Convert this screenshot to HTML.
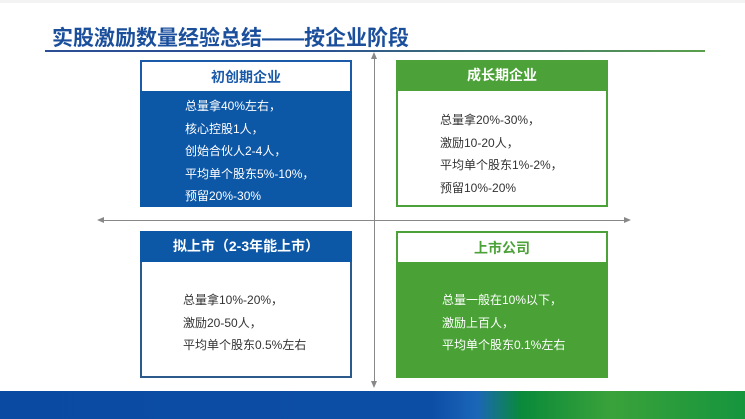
<!DOCTYPE html>
<html><head><meta charset="utf-8"><style>
body{margin:0;width:745px;height:419px;overflow:hidden;background:#fff;font-family:"Liberation Sans","Noto Sans CJK SC",sans-serif;position:relative}
.a{position:absolute}
.t{font-size:12px;line-height:22.5px}
.h{font-size:14px;font-weight:bold;text-align:center;box-sizing:border-box}
</style></head><body>
<div class="a" style="left:0;top:0;width:745px;height:3px;background:#f3f3f3"></div>
<div class="a" style="left:52px;top:22px;font-size:21px;font-weight:bold;color:#1b4f9c">实股激励数量经验总结——按企业阶段</div>
<div class="a" style="left:45px;top:50px;width:660px;height:2px;background:linear-gradient(90deg,#2a4f95,#2a4f95 40%,#5aa04a)"></div>
<!-- axes -->
<div class="a" style="left:374px;top:57px;width:1px;height:326px;background:#888"></div>
<div class="a" style="left:103px;top:220px;width:522px;height:1px;background:#888"></div>
<div class="a" style="left:97px;top:217px;border-top:3px solid transparent;border-bottom:3px solid transparent;border-right:7px solid #888"></div>
<div class="a" style="left:624px;top:217px;border-top:3px solid transparent;border-bottom:3px solid transparent;border-left:7px solid #888"></div>
<div class="a" style="left:371px;top:52px;border-left:3px solid transparent;border-right:3px solid transparent;border-bottom:7px solid #888"></div>
<div class="a" style="left:371px;top:381px;border-left:3px solid transparent;border-right:3px solid transparent;border-top:7px solid #888"></div>
<!-- TL -->
<div class="a h" style="left:140px;top:60px;width:212px;height:31px;border:2px solid #1a5aa8;border-bottom:none;color:#1a5aa8;line-height:31px">初创期企业</div>
<div class="a t" style="left:140px;top:91px;width:212px;height:116px;background:#0d57a7;color:#fff;box-sizing:border-box;padding:4px 0 0 45px">总量拿40%左右，<br>核心控股1人，<br>创始合伙人2-4人，<br>平均单个股东5%-10%，<br>预留20%-30%</div>
<!-- TR -->
<div class="a h" style="left:396px;top:60px;width:212px;height:31px;background:#4ca238;color:#fff;line-height:31px">成长期企业</div>
<div class="a t" style="left:396px;top:91px;width:212px;height:116px;border:2px solid #4ca238;border-top:none;box-sizing:border-box;color:#333;padding:18px 0 0 42px">总量拿20%-30%，<br>激励10-20人，<br>平均单个股东1%-2%，<br>预留10%-20%</div>
<!-- BL -->
<div class="a h" style="left:140px;top:231px;width:212px;height:31px;background:#0d57a7;color:#fff;line-height:31px">拟上市（2-3年能上市）</div>
<div class="a t" style="left:140px;top:262px;width:212px;height:116px;border:2px solid #2c5a8c;border-top:none;box-sizing:border-box;color:#333;padding:27px 0 0 41px">总量拿10%-20%，<br>激励20-50人，<br>平均单个股东0.5%左右</div>
<!-- BR -->
<div class="a h" style="left:396px;top:231px;width:212px;height:31px;border:2px solid #4ca238;border-bottom:none;color:#4ca238;line-height:31px">上市公司</div>
<div class="a t" style="left:396px;top:262px;width:212px;height:116px;background:#4aa236;color:#fff;box-sizing:border-box;padding:27px 0 0 46px">总量一般在10%以下，<br>激励上百人，<br>平均单个股东0.1%左右</div>
<!-- bottom band -->
<div class="a" style="left:0;top:391px;width:745px;height:28px;background:linear-gradient(90deg,#0b4aa2,#0c4ea6 58%,#1b66b8 64%,#0a8a3a 70%,#3aa23a 82%,#16953e)"></div>
</body></html>
